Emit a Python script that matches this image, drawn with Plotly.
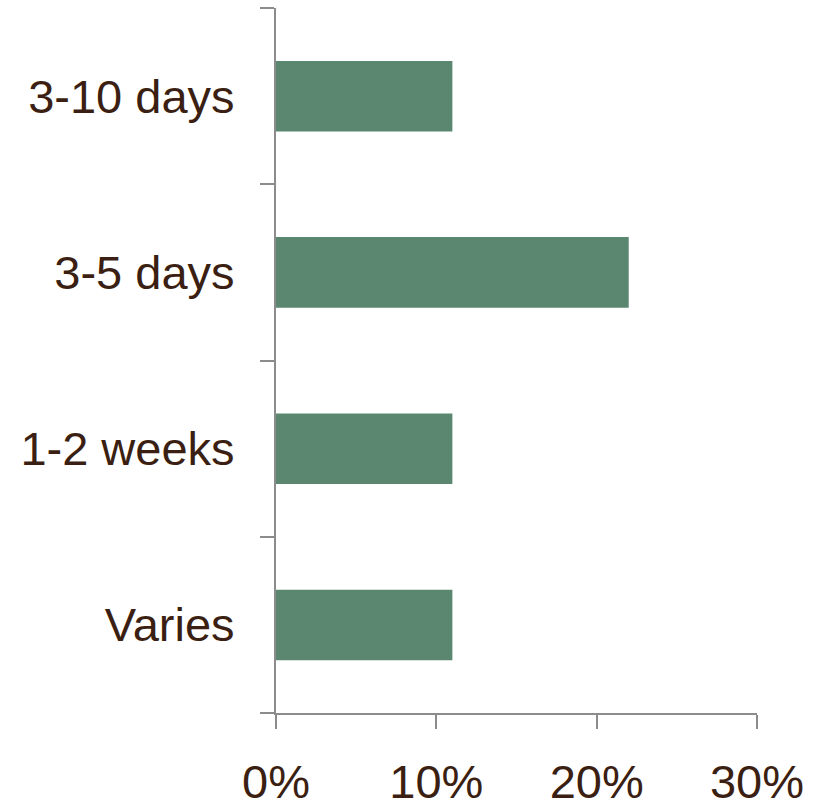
import plotly.graph_objects as go

categories = ["3-10 days", "3-5 days", "1-2 weeks", "Varies"]
values = [0.11, 0.22, 0.11, 0.11]
x_ticks = [0, 0.1, 0.2, 0.3]
x_tick_labels = ["0%", "10%", "20%", "30%"]

text_color = "#3b1f12"
axis_color = "#8c8c8c"

fig = go.Figure(go.Bar(
    y=categories, x=values, orientation="h",
    marker=dict(color="#5b8771", line=dict(width=0)),
    width=0.4,
))

fig.update_layout(
    width=823, height=806,
    margin=dict(l=276, r=66, t=8, b=93, autoexpand=False),
    paper_bgcolor="white", plot_bgcolor="white",
    font=dict(family="Liberation Sans, Arial", color=text_color, size=47),
    showlegend=False,
)
fig.update_xaxes(
    range=[0, 0.3], tickvals=x_ticks, ticktext=x_tick_labels,
    showgrid=False, zeroline=False, automargin=False,
    showline=True, linecolor=axis_color, linewidth=2,
    ticks="outside", ticklen=14, tickwidth=2, tickcolor=axis_color,
    tickfont=dict(size=47, color=text_color),
    ticklabelstandoff=13,
)
fig.update_yaxes(
    categoryorder="array", categoryarray=categories[::-1],
    tickson="boundaries", automargin=False,
    showgrid=False, zeroline=False,
    showline=True, linecolor=axis_color, linewidth=2,
    ticks="outside", ticklen=14, tickwidth=2, tickcolor=axis_color,
    tickfont=dict(size=47, color=text_color),
    ticklabelstandoff=30,
)

fig.write_html("out.html")
